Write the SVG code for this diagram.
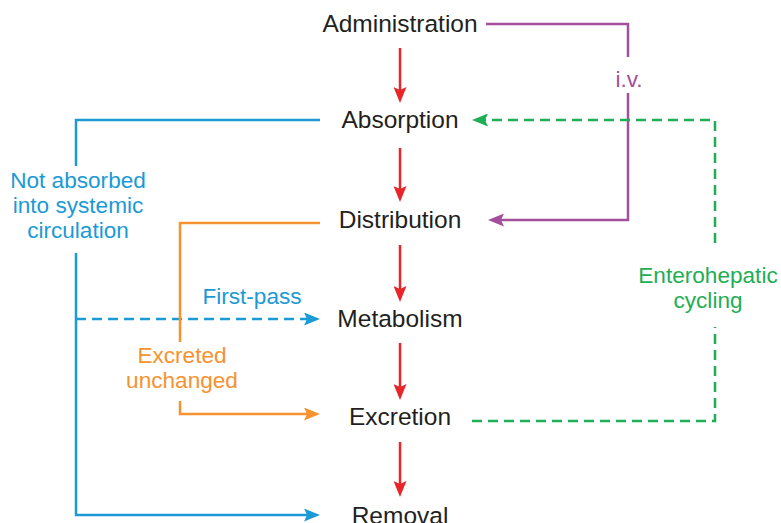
<svg xmlns="http://www.w3.org/2000/svg" width="781" height="523" viewBox="0 0 781 523">
<style>
.node{font-family:"Liberation Sans",Arial,sans-serif;font-size:24.5px;fill:#231f20;text-anchor:middle}
.lbl{font-family:"Liberation Sans",Arial,sans-serif;font-size:22.6px;text-anchor:middle}
.c{fill:none;stroke-width:2.5}
.red{stroke:#e8262a}.pur{stroke:#a24f9c}.grn{stroke:#1fae55}.blu{stroke:#1b9ad6}.org{stroke:#f6922f}
.dash{stroke-dasharray:10 6}
</style>
<defs>
<marker id="ar" markerUnits="userSpaceOnUse" viewBox="0 0 16 13" markerWidth="16" markerHeight="13" refX="10" refY="6.5" orient="auto"><path d="M0,0 L16,6.5 L0,13 L3,6.5 z" fill="#e8262a"/></marker>
<marker id="ap" markerUnits="userSpaceOnUse" viewBox="0 0 16 13" markerWidth="16" markerHeight="13" refX="10" refY="6.5" orient="auto"><path d="M0,0 L16,6.5 L0,13 L3,6.5 z" fill="#a24f9c"/></marker>
<marker id="ag" markerUnits="userSpaceOnUse" viewBox="0 0 16 13" markerWidth="16" markerHeight="13" refX="10" refY="6.5" orient="auto"><path d="M0,0 L16,6.5 L0,13 L3,6.5 z" fill="#1fae55"/></marker>
<marker id="ab" markerUnits="userSpaceOnUse" viewBox="0 0 16 13" markerWidth="16" markerHeight="13" refX="10" refY="6.5" orient="auto"><path d="M0,0 L16,6.5 L0,13 L3,6.5 z" fill="#1b9ad6"/></marker>
<marker id="ao" markerUnits="userSpaceOnUse" viewBox="0 0 16 13" markerWidth="16" markerHeight="13" refX="10" refY="6.5" orient="auto"><path d="M0,0 L16,6.5 L0,13 L3,6.5 z" fill="#f6922f"/></marker>
</defs>
<g id="connectors">
<path class="c red" d="M400,48 V97" marker-end="url(#ar)"/>
<path class="c red" d="M400,148 V196" marker-end="url(#ar)"/>
<path class="c red" d="M400,245 V296" marker-end="url(#ar)"/>
<path class="c red" d="M400,343 V394" marker-end="url(#ar)"/>
<path class="c red" d="M400,442 V491" marker-end="url(#ar)"/>
<path class="c pur" d="M486,24 H628 V57"/>
<path class="c pur" d="M628,93 V220 H494" marker-end="url(#ap)"/>
<text class="lbl" x="629" y="87" fill="#a24f9c">i.v.</text>
<path class="c grn dash" d="M715,243 V120 H478" marker-end="url(#ag)"/>
<path class="c grn dash" d="M472,421 H715 V327"/>
<text class="lbl" x="708" y="283" fill="#1fae55">Enterohepatic</text>
<text class="lbl" x="708" y="308" fill="#1fae55">cycling</text>
<path class="c blu" d="M320,120 H76 V166"/>
<path class="c blu" d="M76,253 V515 H314" marker-end="url(#ab)"/>
<path class="c blu dash" d="M76,319 H314" marker-end="url(#ab)"/>
<text class="lbl" x="78" y="188" fill="#1b9ad6">Not absorbed</text>
<text class="lbl" x="78" y="213" fill="#1b9ad6">into systemic</text>
<text class="lbl" x="78" y="238" fill="#1b9ad6">circulation</text>
<text class="lbl" x="252" y="304" fill="#1b9ad6">First-pass</text>
<path class="c org" d="M320,223 H180 V342"/>
<path class="c org" d="M180,401 V414 H314" marker-end="url(#ao)"/>
<text class="lbl" x="182" y="363" fill="#f6922f">Excreted</text>
<text class="lbl" x="182" y="388" fill="#f6922f">unchanged</text>
</g>
<g id="administration"><text class="node" x="400" y="32">Administration</text></g>
<g id="absorption"><text class="node" x="400" y="128">Absorption</text></g>
<g id="distribution"><text class="node" x="400" y="228">Distribution</text></g>
<g id="metabolism"><text class="node" x="400" y="327">Metabolism</text></g>
<g id="excretion"><text class="node" x="400" y="425">Excretion</text></g>
<g id="removal"><text class="node" x="400" y="524">Removal</text></g>
</svg>
